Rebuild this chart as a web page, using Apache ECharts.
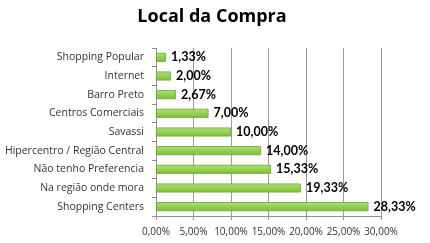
<!DOCTYPE html>
<html><head><meta charset="utf-8">
<script src="https://cdn.jsdelivr.net/npm/echarts@6/dist/echarts.min.js"></script>
<style>html,body{margin:0;padding:0;background:#fff}#c{width:430px;height:243px}</style>
</head><body><div id="c"></div>
<script>
var categories = ['Shopping Centers','Na região onde mora','Não tenho Preferencia','Hipercentro / Região Central','Savassi','Centros Comerciais','Barro Preto','Internet','Shopping Popular'];
var values = [28.33, 19.33, 15.33, 14.00, 10.00, 7.00, 2.67, 2.00, 1.33];
var fmt = function(v){ return v.toFixed(2).replace('.', ',') + '%'; };
var chart = echarts.init(document.getElementById('c'));
chart.setOption({
  animation: false,
  title: { text: 'Local da Compra', left: 207, top: 3, textAlign: 'center',
    textStyle: { fontFamily: 'Open Sans', fontSize: 18, fontWeight: 'bold', color: '#000' } },
  grid: { left: 156, right: 49, top: 48, bottom: 27 },
  xAxis: { type: 'value', min: 0, max: 30, interval: 5,
    axisLine: { show: true, lineStyle: { color: '#909090' } },
    axisTick: { show: true, length: 4, lineStyle: { color: '#909090' } },
    splitLine: { show: true, lineStyle: { color: '#9a9a9a' } },
    axisLabel: { formatter: fmt, fontFamily: 'Open Sans', fontSize: 10, color: '#333', margin: 11 } },
  yAxis: { type: 'category', data: categories,
    axisLine: { show: true, lineStyle: { color: '#909090' } },
    axisTick: { show: true, length: 4, lineStyle: { color: '#909090' } },
    axisLabel: { fontFamily: 'Open Sans', fontSize: 10.5, color: '#333', margin: 12 } },
  series: [{
    type: 'bar', data: values, barWidth: 9,
    itemStyle: {
      color: new echarts.graphic.LinearGradient(0, 0, 0, 1, [
        { offset: 0, color: '#b8e07c' }, { offset: 0.5, color: '#92d050' }, { offset: 1, color: '#7fbf3a' }]),
      borderColor: '#6e9e35', borderWidth: 0.8
    },
    label: { show: true, position: 'right', distance: 5, formatter: function(p){ return fmt(p.value); },
      fontFamily: 'Lato', fontSize: 12.5, fontWeight: 'bold', color: '#000' }
  }]
});
</script></body></html>
